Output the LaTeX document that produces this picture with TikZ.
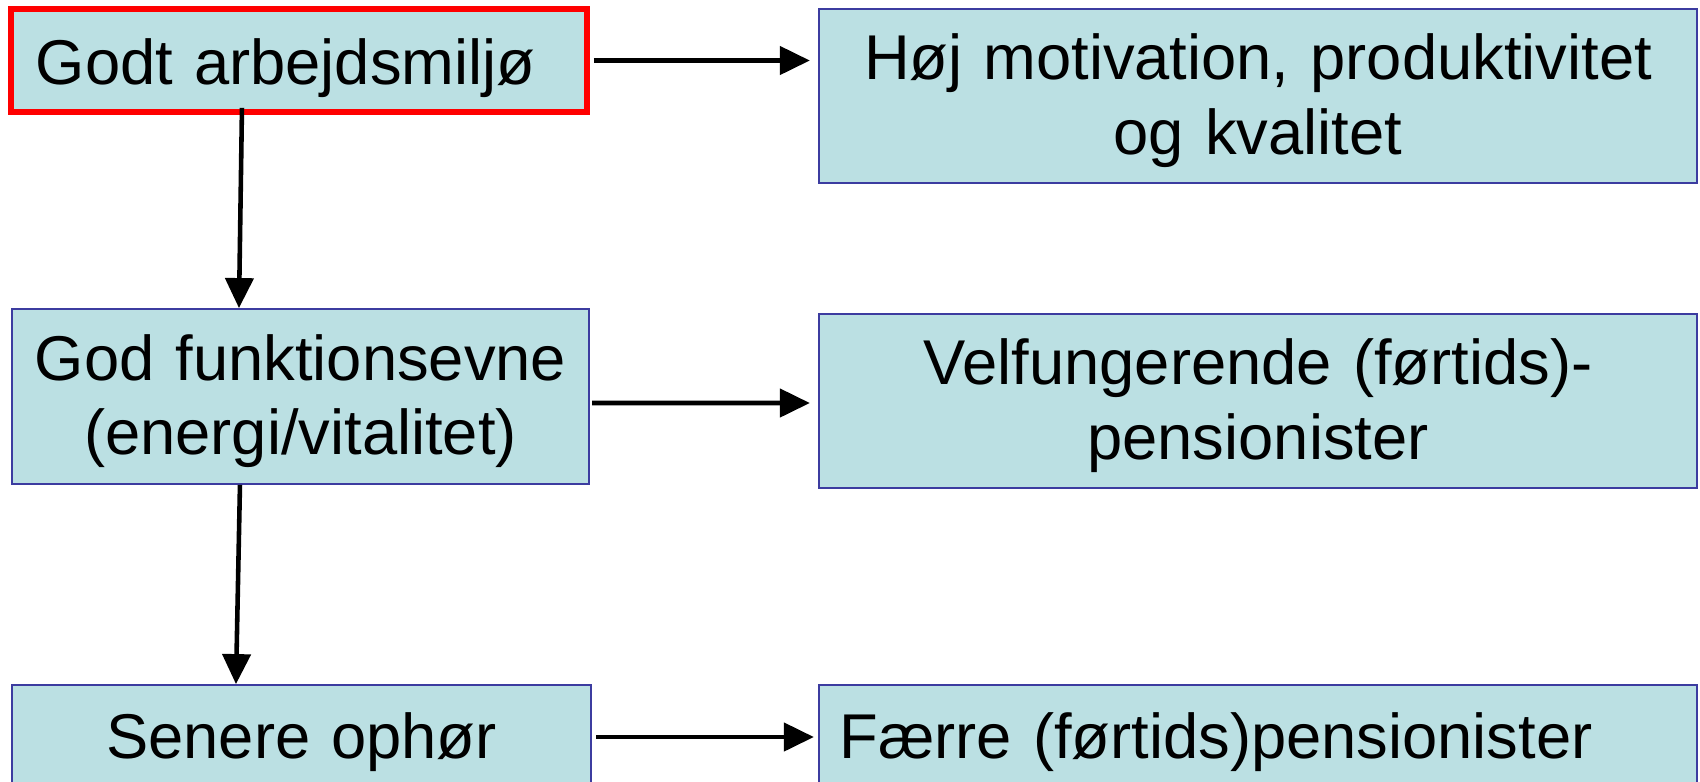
\documentclass[tikz,border=0pt]{standalone}
\usepackage{fontspec}
\setmainfont{Liberation Sans}
\usetikzlibrary{arrows.meta}
\definecolor{boxfill}{RGB}{187,224,227}
\definecolor{boxline}{RGB}{60,60,160}
\begin{document}
\begin{tikzpicture}[x=0.01cm, y=-0.01cm, every node/.style={font=\fontsize{18}{21.3}\selectfont}]
  \tikzstyle{box}=[draw=boxline, fill=boxfill, line width=0.5pt, inner sep=0pt, align=center]
  \tikzstyle{twoline}=[text height=0.56cm, text depth=0.89cm]
  \tikzstyle{trans}=[line width=1.3pt, -{Triangle[length=3mm,width=2.8mm]}]

\useasboundingbox (0,0) rectangle (1700,781);

\node [box, draw=red, line width=1.6pt, minimum width=5.76cm, minimum height=1.03cm, text width=5.26cm, align=left, text height=0.6cm, text depth=0.13cm] (arbejdsmiljo) at (299,60.5) {Godt arbejdsmiljø};
\node [box, twoline, minimum width=8.78cm, minimum height=1.74cm, text width=8.78cm] (motivation) at (1258,96) {Høj motivation, produktivitet\\og kvalitet};

\node [box, twoline, minimum width=5.77cm, minimum height=1.75cm, text width=5.77cm] (funktion) at (300.5,396.5) {God funktionsevne\\(energi/vitalitet)};
\node [box, twoline, minimum width=8.78cm, minimum height=1.74cm, text width=8.78cm] (velfung) at (1258,401) {Velfungerende (førtids)-\\pensionister};

\node [box, minimum width=5.79cm, minimum height=1.04cm, text width=5.79cm, text height=0.55cm, text depth=0.13cm] (ophor) at (301.5,737) {Senere ophør};
\node [box, minimum width=8.78cm, minimum height=1.04cm, text width=8.36cm, align=left, text height=0.55cm, text depth=0.13cm] (faerre) at (1258,737) {Færre (førtids)pensionister};

% down the left column
\draw[trans] ([xshift=-0.57cm, yshift=0.07cm]arbejdsmiljo.south) -- ([xshift=-0.615cm]funktion.north);
\draw[trans] ([xshift=-0.605cm]funktion.south) -- ([xshift=-0.655cm]ophor.north);

% across
\draw[trans, shorten <=0.04cm, shorten >=0.08cm] (arbejdsmiljo.east) -- (arbejdsmiljo.east -| motivation.west);
\draw[trans, shorten <=0.02cm, shorten >=0.08cm] ([yshift=-0.065cm]funktion.east) -- ([yshift=-0.02cm]velfung.west);
\draw[trans, shorten <=0.04cm, shorten >=0.04cm] (ophor.east) -- (faerre.west);

\end{tikzpicture}
\end{document}
